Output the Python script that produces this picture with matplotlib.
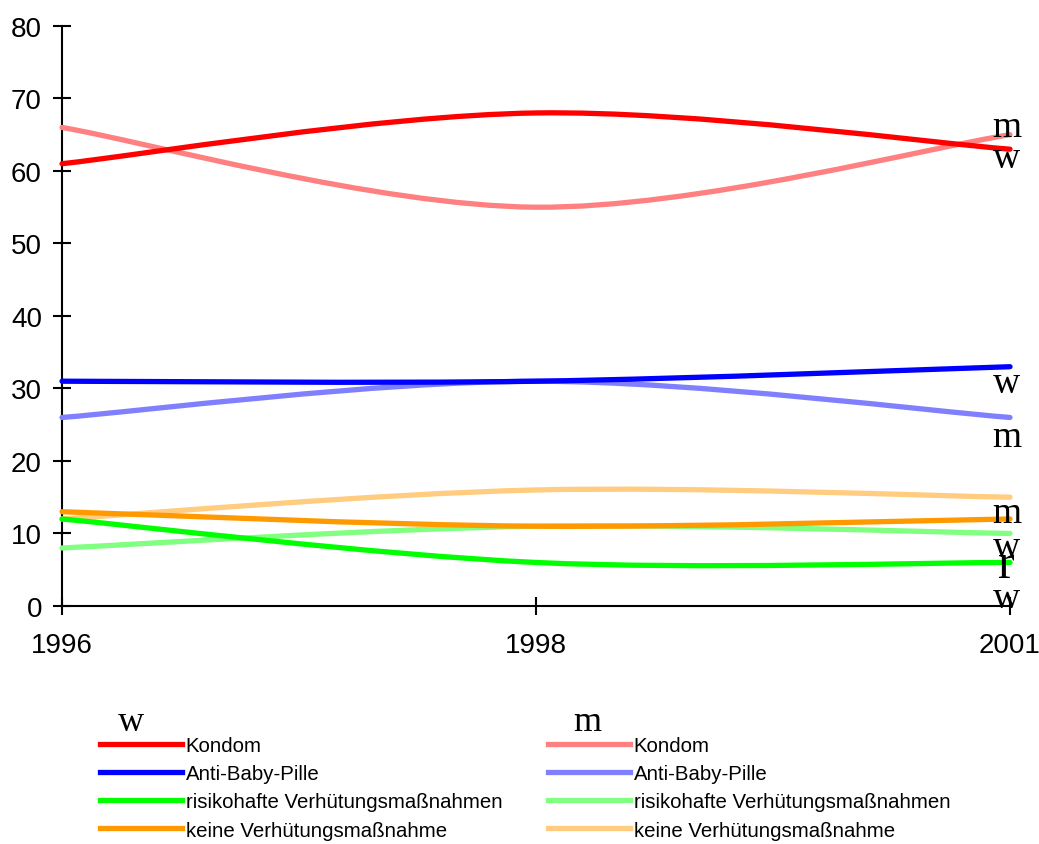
import matplotlib
matplotlib.use('Agg')
import matplotlib.pyplot as plt
from matplotlib.path import Path
from matplotlib.patches import PathPatch
from matplotlib.lines import Line2D

# Daten
jahre = ['1996', '1998', '2001']
kategorien = ['Kondom', 'Anti-Baby-Pille', 'risikohafte Verhütungsmaßnahmen', 'keine Verhütungsmaßnahme']
w_kondom = [61, 68, 63]
w_pille = [31, 31, 33]
w_risiko = [12, 6, 6]
w_keine = [13, 11, 12]
m_kondom = [66, 55, 65]
m_pille = [26, 31, 26]
m_risiko = [8, 11, 10]
m_keine = [12, 16, 15]

farben_w = ['#ff0000', '#0000ff', '#00ff00', '#ff9900']
farben_m = ['#ff8080', '#8080ff', '#80ff80', '#ffcc80']

# Beschriftungen rechts (Text, y-Wert, Schriftgröße)
rechts_text = ['m', 'w', 'w', 'm', 'm', 'w', 'r', 'w']
rechts_y = [64.8, 60.6, 29.5, 22.1, 11.6, 6.9, 4.0, -0.1]
rechts_gr = [27, 27, 27, 27, 27, 27, 36, 27]


def glatte_linie(ax, y, farbe, lw):
    # Excel-artige geglaettete Linie als Bezier-Kurve
    x = list(range(len(y)))
    pts = list(zip(x, y))
    verts = [pts[0]]
    codes = [Path.MOVETO]
    n = len(pts)
    for i in range(n - 1):
        p0 = pts[max(i - 1, 0)]
        p1 = pts[i]
        p2 = pts[i + 1]
        p3 = pts[min(i + 2, n - 1)]
        c1 = (p1[0] + (p2[0] - p0[0]) / 6, p1[1] + (p2[1] - p0[1]) / 6)
        c2 = (p2[0] - (p3[0] - p1[0]) / 6, p2[1] - (p3[1] - p1[1]) / 6)
        verts += [c1, c2, p2]
        codes += [Path.CURVE4] * 3
    ax.add_patch(PathPatch(Path(verts, codes), fill=False, edgecolor=farbe,
                           lw=lw, capstyle='round', clip_on=False, zorder=3))


fig = plt.figure(figsize=(10.39, 8.45), dpi=100)
ax = fig.add_axes([0.0597, 0.2817, 0.9124, 0.6864])

for reihe, f in zip([m_kondom, m_pille, m_risiko, m_keine], farben_m):
    glatte_linie(ax, reihe, f, 3.8)
for reihe, f in zip([w_kondom, w_pille, w_risiko, w_keine], farben_w):
    glatte_linie(ax, reihe, f, 3.8)

ax.set_xlim(0, 2)
ax.set_ylim(0, 80)
ax.set_xticks(range(len(jahre)))
ax.set_xticklabels(jahre)
ax.set_yticks(range(0, 81, 10))
for s in ['top', 'right']:
    ax.spines[s].set_visible(False)
for s in ['left', 'bottom']:
    ax.spines[s].set_linewidth(1.5)
ax.tick_params(direction='inout', length=13, width=1.5, labelsize=20, pad=8)
ax.tick_params(axis='x', pad=12)
for lbl in ax.get_xticklabels() + ax.get_yticklabels():
    lbl.set_fontfamily('Liberation Sans')

for t, yv, g in zip(rechts_text, rechts_y, rechts_gr):
    ax.text(1.993, yv, t, ha='center', va='baseline', fontsize=g,
            family='Liberation Serif', clip_on=False, zorder=4)

# Legenden
griffe_w = [Line2D([], [], color=f, lw=3.8) for f in farben_w]
griffe_m = [Line2D([], [], color=f, lw=3.8) for f in farben_m]
opts = dict(frameon=False, handlelength=4.0, handletextpad=0.2,
            labelspacing=0.45, borderpad=0, borderaxespad=0, loc='upper left',
            prop={'family': 'Liberation Sans', 'size': 14.7})
leg1 = fig.legend(griffe_w, kategorien, bbox_to_anchor=(100 / 1039, 1 - 737 / 845), **opts)
leg2 = fig.legend(griffe_m, kategorien, bbox_to_anchor=(548 / 1039, 1 - 737 / 845), **opts)

fig.text(131 / 1039, 1 - 731 / 845, 'w', ha='center', va='baseline', fontsize=26, family='Liberation Serif')
fig.text(587 / 1039, 1 - 731 / 845, 'm', ha='center', va='baseline', fontsize=26, family='Liberation Serif')

fig.savefig('out.png', dpi=100)
